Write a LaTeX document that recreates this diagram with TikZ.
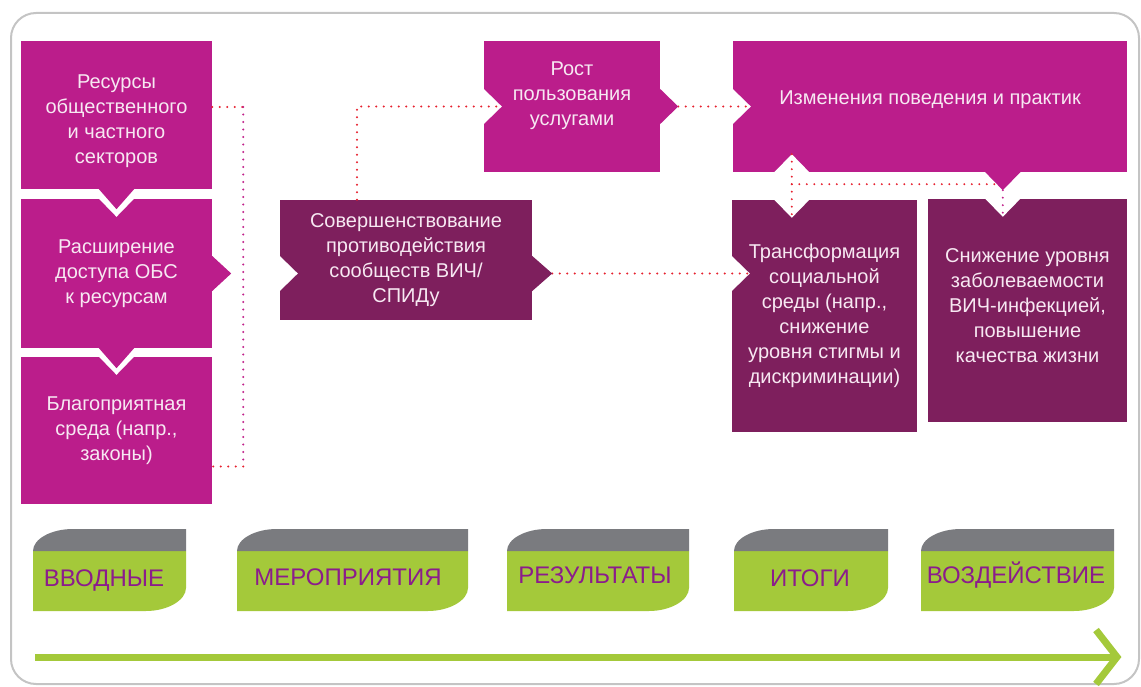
\documentclass[tikz,border=0pt]{standalone}
\usepackage{fontspec}
\setmainfont{Liberation Sans}
\usetikzlibrary{calc}

\definecolor{boxmag}{HTML}{BB1D8B}
\definecolor{boxpur}{HTML}{7E1F5D}
\definecolor{boxtext}{HTML}{F7E8F2}
\definecolor{tabgray}{HTML}{7A7B7F}
\definecolor{tabgreen}{HTML}{A4C93A}
\definecolor{tabtext}{HTML}{8B1C8C}
\definecolor{framegray}{HTML}{C4C4C4}
\definecolor{dotred}{HTML}{E6202E}
\definecolor{dotmag}{HTML}{C0208A}

\newcommand{\boxfont}{\fontsize{20}{25}\selectfont}
\newcommand{\tabfont}{\fontsize{24}{28}\selectfont}

\tikzset{
    magbox/.style={fill=boxmag, text=boxtext, align=center, inner sep=0pt, font=\boxfont},
    purbox/.style={fill=boxpur, text=boxtext, align=center, inner sep=0pt, font=\boxfont},
    dotline/.style={line width=2.2pt, line cap=round, dash pattern=on 0pt off 7.5pt},
    tablabel/.style={text=tabtext, font=\tabfont, inner sep=0pt},
    timeline/.style={draw=tabgreen, line width=7pt}
}

\begin{document}
\begin{tikzpicture}[x=1pt, y=-1pt]
            \useasboundingbox (0,0) rectangle (1141,687);
            \draw[framegray, line width=2pt, rounded corners=25pt] (11,13) rectangle (1139,684);
            
            % boxes
            \node[magbox, minimum width=191pt, minimum height=148pt] (res) at (116.5,115) {\rule{0pt}{26pt}Ресурсы\\общественного\\и частного\\секторов};
            \node[magbox, minimum width=191pt, minimum height=149pt] (dostup) at (116.5,273.5) {Расширение\\доступа ОБС\\к ресурсам};
            \node[magbox, minimum width=191pt, minimum height=147pt] (sreda) at (116.5,430.5) {Благоприятная\\среда (напр.,\\законы)};
            
            \node[purbox, minimum width=252pt, minimum height=120pt] (sov) at (406,260) {Совершенствование\\противодействия\\сообществ ВИЧ/\\СПИДу};
            
            \node[magbox, minimum width=176pt, minimum height=131pt] (rost) at (572,106.5) {Рост\\пользования\\услугами\rule[-26pt]{0pt}{26pt}};
            \node[magbox, minimum width=394pt, minimum height=131pt] (izm) at (930,106.5) {Изменения поведения и практик\rule[-17pt]{0pt}{17pt}};
            
            \node[purbox, minimum width=185pt, minimum height=232pt] (trans) at (824.5,316) {Трансформация\\социальной\\среды (напр.,\\снижение\\уровня стигмы и\\дискриминации)};
            \node[purbox, minimum width=199pt, minimum height=223pt] (snizh) at (1027.5,310.5) {Снижение уровня\\заболеваемости\\ВИЧ-инфекцией,\\повышение\\качества жизни\rule[-10pt]{0pt}{10pt}};
            
            \coordinate (sovin) at (sov.west |- dostup.east);
            \coordinate (sovout) at (sov.east |- dostup.east);
            \coordinate (trin) at (trans.west |- dostup.east);
            \coordinate (ta) at ($(trans.north west)+(60,0)$);
            \coordinate (ia) at (ta |- izm.south);
            \coordinate (ib) at ($(snizh.north west)+(75,0)$);
            \coordinate (ibt) at (ib |- izm.south);
            
            % notches
            \fill[white] ($(dostup.north)+(-18,-0.5)$) -- ($(dostup.north)+(0,18)$) -- ($(dostup.north)+(18,-0.5)$) -- cycle;
            \fill[white] ($(sreda.north)+(-18,-0.5)$) -- ($(sreda.north)+(0,18)$) -- ($(sreda.north)+(18,-0.5)$) -- cycle;
            \fill[white] ($(sovin)+(-0.5,-18)$) -- ($(sovin)+(18,0)$) -- ($(sovin)+(-0.5,18)$) -- cycle;
            \fill[white] ($(trin)+(-0.5,-18)$) -- ($(trin)+(18,0)$) -- ($(trin)+(-0.5,18)$) -- cycle;
            \fill[white] ($(rost.west)+(-0.5,-18)$) -- ($(rost.west)+(18,0)$) -- ($(rost.west)+(-0.5,18)$) -- cycle;
            \fill[white] ($(izm.west)+(-0.5,-18)$) -- ($(izm.west)+(18,0)$) -- ($(izm.west)+(-0.5,18)$) -- cycle;
            \fill[white] ($(ia)+(-18,0.5)$) -- ($(ia)+(0,-18)$) -- ($(ia)+(18,0.5)$) -- cycle;
            \fill[white] ($(ta)+(-18,-0.5)$) -- ($(ta)+(0,18)$) -- ($(ta)+(18,-0.5)$) -- cycle;
            \fill[white] ($(ib)+(-18,-0.5)$) -- ($(ib)+(0,18)$) -- ($(ib)+(18,-0.5)$) -- cycle;
            
            % dotted links
            \coordinate (brtop) at ($(res.east)+(31,-8)$);
            \coordinate (brbot) at ($(sreda.east)+(31,36)$);
            \draw[dotline, dotred] ($(res.east)+(0,-8)$) -- (brtop);
            \draw[dotline, dotmag] (brtop) -- (brbot);
            \draw[dotline, dotred] (brbot) -- ($(sreda.east)+(0,36)$);
            
            \draw[dotline, dotred] ($(sov.north)+(-49,0)$) |- ($(rost.west)+(18,0)$);
            \draw[dotline, dotred] ($(rost.east)+(18,0)$) -- ($(izm.west)+(18,0)$);
            \draw[dotline, dotred] ($(sovout)+(20,0)$) -- ($(trin)+(18,0)$);
            \draw[dotline, dotred] ($(ia)+(0,-18)$) -- ($(ta)+(0,18)$);
            \draw[dotline, dotred] ($(ia)+(0,12)$) -- ($(ibt)+(-8,12)$);
            \draw[dotline, dotmag] ($(ibt)+(0,18)$) -- ($(ib)+(0,18)$);
            
            % pointers
            \fill[boxmag] ($(res.south)+(-18,-0.5)$) -- ($(res.south)+(0,20)$) -- ($(res.south)+(18,-0.5)$) -- cycle;
            \fill[boxmag] ($(dostup.south)+(-18,-0.5)$) -- ($(dostup.south)+(0,20)$) -- ($(dostup.south)+(18,-0.5)$) -- cycle;
            \fill[boxmag] ($(dostup.east)+(-0.5,-18)$) -- ($(dostup.east)+(19,0)$) -- ($(dostup.east)+(-0.5,18)$) -- cycle;
            \fill[boxpur] ($(sovout)+(-0.5,-18)$) -- ($(sovout)+(20,0)$) -- ($(sovout)+(-0.5,18)$) -- cycle;
            \fill[boxmag] ($(rost.east)+(-0.5,-18)$) -- ($(rost.east)+(18,0)$) -- ($(rost.east)+(-0.5,18)$) -- cycle;
            \fill[boxmag] ($(ibt)+(-18,-0.5)$) -- ($(ibt)+(0,18)$) -- ($(ibt)+(18,-0.5)$) -- cycle;
            
            % stage tabs
            \fill[tabgreen] (33,551) -- (33,611) -- (146,611) .. controls (168,611) and (186,600) .. (186,588) -- (186,551) -- cycle;
            \fill[tabgray] (33,551) .. controls (33,539) and (51,529) .. (73,529) -- (186,529) -- (186,551) -- cycle;
            \fill[tabgreen] (237,551) -- (237,611) -- (428,611) .. controls (450,611) and (468,600) .. (468,588) -- (468,551) -- cycle;
            \fill[tabgray] (237,551) .. controls (237,539) and (255,529) .. (277,529) -- (468,529) -- (468,551) -- cycle;
            \fill[tabgreen] (507,551) -- (507,611) -- (649,611) .. controls (671,611) and (689,600) .. (689,588) -- (689,551) -- cycle;
            \fill[tabgray] (507,551) .. controls (507,539) and (525,529) .. (547,529) -- (689,529) -- (689,551) -- cycle;
            \fill[tabgreen] (734,551) -- (734,611) -- (848,611) .. controls (870,611) and (888,600) .. (888,588) -- (888,551) -- cycle;
            \fill[tabgray] (734,551) .. controls (734,539) and (752,529) .. (774,529) -- (888,529) -- (888,551) -- cycle;
            \fill[tabgreen] (921,551) -- (921,611) -- (1074,611) .. controls (1096,611) and (1114,600) .. (1114,588) -- (1114,551) -- cycle;
            \fill[tabgray] (921,551) .. controls (921,539) and (939,529) .. (961,529) -- (1114,529) -- (1114,551) -- cycle;
            
            \node[tablabel] (tabin) at (104,581) {ВВОДНЫЕ};
            \node[tablabel] (tabact) at (348,577) {МЕРОПРИЯТИЯ};
            \node[tablabel] (tabres) at (595,575) {РЕЗУЛЬТАТЫ};
            \node[tablabel] (tabout) at (810,578) {ИТОГИ};
            \node[tablabel] (tabimp) at (1016,575) {ВОЗДЕЙСТВИЕ};
            
            % time arrow
            \coordinate (tl0) at (35,657);
            \coordinate (tl1) at (1117,657);
            \draw[timeline] (tl0) -- ($(tl1)+(-4,0)$);
            \draw[timeline] ($(tl1)+(-21,-27)$) -- (tl1) -- ($(tl1)+(-21,27)$);
            \end{tikzpicture}
\end{document}
